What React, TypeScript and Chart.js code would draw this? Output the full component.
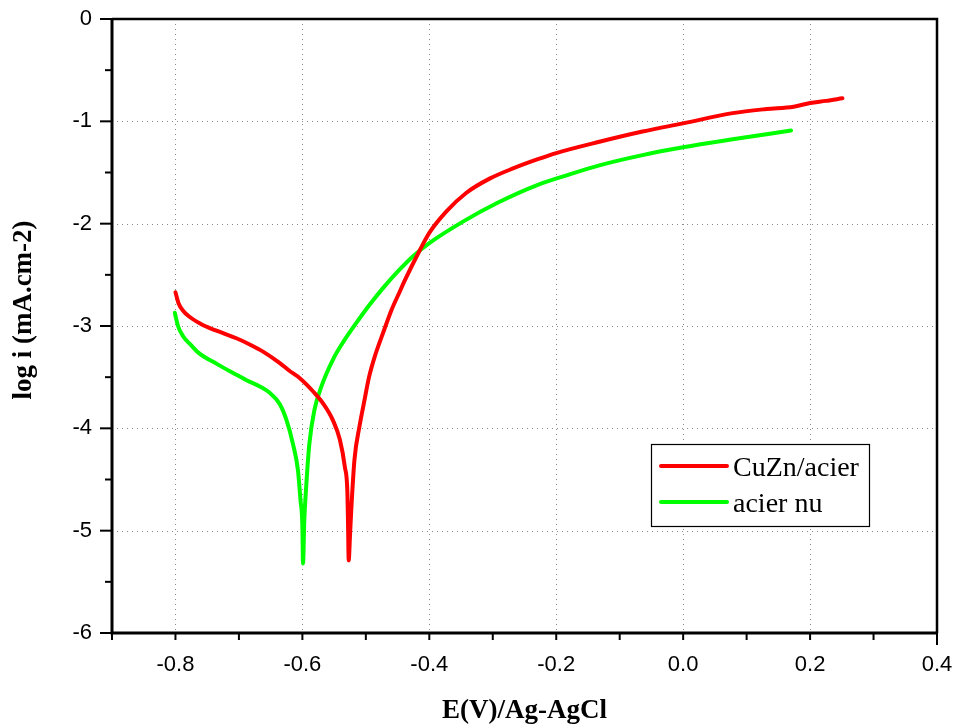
import React, { useEffect, useRef } from "react";
import { Chart, registerables } from "chart.js";

Chart.register(...registerables);

// ---- Data ----
const cuznE = [
  -0.8, -0.795, -0.788, -0.778, -0.76, -0.746, -0.725, -0.704, -0.683, -0.662,
  -0.636, -0.62, -0.604, -0.583, -0.567, -0.552, -0.541, -0.533, -0.529, -0.528,
  -0.527, -0.525, -0.523, -0.518, -0.51, -0.502, -0.495, -0.486, -0.473, -0.46,
  -0.447, -0.439, -0.415, -0.4, -0.373, -0.342, -0.305, -0.268,
  -0.229, -0.2, -0.132, -0.064, 0.0, 0.078, 0.131, 0.174, 0.2, 0.225, 0.251,
];
const cuznLogI = [
  -2.67, -2.78, -2.85, -2.91, -2.98, -3.02, -3.07, -3.12, -3.18, -3.25,
  -3.36, -3.44, -3.51, -3.64, -3.76, -3.92, -4.11, -4.38, -4.64, -4.96,
  -5.29, -5.05, -4.8, -4.31, -3.98, -3.72, -3.5, -3.3, -3.07, -2.85,
  -2.67, -2.56, -2.26, -2.09, -1.88, -1.7, -1.56, -1.46,
  -1.37, -1.31, -1.2, -1.1, -1.02, -0.92, -0.88, -0.857, -0.82, -0.8, -0.775,
];

const acierE = [
  -0.801, -0.796, -0.788, -0.775, -0.762, -0.735, -0.709, -0.688, -0.667, -0.652,
  -0.636, -0.625, -0.615, -0.607, -0.603, -0.6, -0.599, -0.597, -0.594, -0.589,
  -0.581, -0.57, -0.552, -0.535, -0.515, -0.495, -0.473, -0.447, -0.426, -0.4,
  -0.347, -0.294, -0.229, -0.18, -0.132, -0.064, 0.0, 0.078, 0.17,
];
const acierLogI = [
  -2.87, -3.0, -3.1, -3.19, -3.27, -3.37, -3.46, -3.53, -3.59, -3.65,
  -3.76, -3.92, -4.15, -4.41, -4.7, -4.96, -5.32, -4.9, -4.57, -4.15,
  -3.82, -3.59, -3.33, -3.15, -2.97, -2.8, -2.63, -2.45, -2.32, -2.19,
  -1.98, -1.8, -1.62, -1.52, -1.43, -1.33, -1.254, -1.176, -1.09,
];

const seriesLabels = ["CuZn/acier", "acier nu"];
const seriesColors = ["#ff0000", "#00ff00"];

const xTickValues = [-0.8, -0.6, -0.4, -0.2, 0.0, 0.2, 0.4];
const xMinorValues = [-0.9, -0.7, -0.5, -0.3, -0.1, 0.1, 0.3];
const yTickValues = [-6, -5, -4, -3, -2, -1, 0];
const yMinorValues = [-5.5, -4.5, -3.5, -2.5, -1.5, -0.5];
const xGridValues = [-0.8, -0.6, -0.4, -0.2, 0.0, 0.2];
const yGridValues = [-5, -4, -3, -2, -1];

const xTitle = "E(V)/Ag-AgCl";
const yTitle = "log i (mA.cm-2)";

const SANS = "'Liberation Sans', Arial, sans-serif";
const SERIF = "'Liberation Serif', 'Times New Roman', serif";

const decorPlugin = {
  id: "decor",
  beforeDatasetsDraw(chart: any) {
    const { ctx, chartArea, scales } = chart;
    const { left, right, top, bottom } = chartArea;
    const xs = scales.x;
    const ys = scales.y;
    ctx.save();
    ctx.strokeStyle = "#8a8a8a";
    ctx.lineWidth = 1;
    ctx.setLineDash([1, 4]);
    for (const v of xGridValues) {
      const px = Math.round(xs.getPixelForValue(v)) + 0.5;
      ctx.beginPath();
      ctx.moveTo(px, top);
      ctx.lineTo(px, bottom);
      ctx.stroke();
    }
    for (const v of yGridValues) {
      const py = Math.round(ys.getPixelForValue(v)) + 0.5;
      ctx.beginPath();
      ctx.moveTo(left, py);
      ctx.lineTo(right, py);
      ctx.stroke();
    }
    ctx.restore();
  },
  afterDatasetsDraw(chart: any) {
    const { ctx, chartArea, scales } = chart;
    const { left, right, top, bottom } = chartArea;
    const xs = scales.x;
    const ys = scales.y;
    ctx.save();
    ctx.setLineDash([]);
    ctx.strokeStyle = "#000";
    // frame
    ctx.lineWidth = 2.5;
    ctx.beginPath();
    ctx.moveTo(left, top);
    ctx.lineTo(right, top);
    ctx.lineTo(right, bottom);
    ctx.stroke();
    ctx.lineWidth = 3;
    ctx.beginPath();
    ctx.moveTo(left, top);
    ctx.lineTo(left, bottom);
    ctx.lineTo(right, bottom);
    ctx.stroke();
    // ticks
    ctx.lineWidth = 2;
    const allX = [...xTickValues, ...xMinorValues];
    for (const v of allX) {
      const px = xs.getPixelForValue(v);
      const len = v === 0.4 ? 12 : 7;
      ctx.beginPath();
      ctx.moveTo(px, bottom);
      ctx.lineTo(px, bottom + len);
      ctx.stroke();
    }
    for (const v of yTickValues) {
      const py = ys.getPixelForValue(v);
      ctx.beginPath();
      ctx.moveTo(left, py);
      ctx.lineTo(left - 12, py);
      ctx.stroke();
    }
    for (const v of yMinorValues) {
      const py = ys.getPixelForValue(v);
      ctx.beginPath();
      ctx.moveTo(left, py);
      ctx.lineTo(left - 7, py);
      ctx.stroke();
    }
    // legend
    const bx = right - 286;
    const by = top + 425;
    const bw = 218;
    const bh = 82;
    ctx.fillStyle = "#fff";
    ctx.fillRect(bx, by, bw, bh);
    ctx.lineWidth = 1.2;
    ctx.strokeStyle = "#000";
    ctx.strokeRect(bx + 0.5, by + 0.5, bw, bh);
    ctx.font = `28px ${SERIF}`;
    ctx.textAlign = "left";
    ctx.textBaseline = "alphabetic";
    seriesLabels.forEach((lab, i) => {
      const ly = by + 22 + i * 36;
      ctx.strokeStyle = seriesColors[i];
      ctx.lineWidth = 4;
      ctx.lineCap = "round";
      ctx.beginPath();
      ctx.moveTo(bx + 10, ly);
      ctx.lineTo(bx + 76, ly);
      ctx.stroke();
      ctx.fillStyle = "#000";
      ctx.fillText(lab, bx + 82, ly + 10);
    });
    // axis titles
    ctx.font = `bold 27px ${SERIF}`;
    ctx.fillStyle = "#000";
    ctx.textAlign = "center";
    ctx.textBaseline = "alphabetic";
    ctx.fillText(xTitle, (left + right) / 2, bottom + 85);
    ctx.translate(24, (top + bottom) / 2 - 16);
    ctx.rotate(-Math.PI / 2);
    ctx.textBaseline = "middle";
    ctx.fillText(yTitle, 0, 0);
    ctx.restore();
  },
};

export default function App() {
  const canvasRef = useRef<HTMLCanvasElement | null>(null);

  useEffect(() => {
    const canvas = canvasRef.current;
    if (!canvas) return;
    const lineDs = (i: number, xs: number[], ys: number[]) => ({
      label: seriesLabels[i],
      data: xs.map((x, k) => ({ x, y: ys[k] })),
      borderColor: seriesColors[i],
      backgroundColor: seriesColors[i],
      showLine: true,
      pointRadius: 0,
      borderWidth: 4,
      cubicInterpolationMode: "monotone",
      borderCapStyle: "round",
      borderJoinStyle: "round",
    });
    const chart = new Chart(canvas, {
      type: "scatter",
      data: {
        datasets: [lineDs(0, cuznE, cuznLogI), lineDs(1, acierE, acierLogI)],
      },
      options: {
        responsive: false,
        animation: false,
        layout: { padding: { top: 19, right: 18, left: 0, bottom: 0 } },
        plugins: {
          legend: { display: false },
          tooltip: { enabled: false },
        },
        scales: {
          x: {
            type: "linear",
            min: -0.9,
            max: 0.4,
            grid: { display: false, drawTicks: false },
            border: { display: false },
            afterBuildTicks: (s: any) => {
              s.ticks = xTickValues.map((v) => ({ value: v }));
            },
            afterFit: (s: any) => {
              s.height = 93;
              s.paddingLeft = 0;
              s.paddingRight = 0;
            },
            ticks: {
              padding: 19,
              color: "#000",
              font: { family: SANS, size: 22 },
              maxRotation: 0,
              autoSkip: false,
              callback: (v: any) => Number(v).toFixed(1),
            },
          },
          y: {
            type: "linear",
            min: -6,
            max: 0,
            grid: { display: false, drawTicks: false },
            border: { display: false },
            afterBuildTicks: (s: any) => {
              s.ticks = yTickValues.map((v) => ({ value: v }));
            },
            afterFit: (s: any) => {
              s.width = 112;
              s.paddingTop = 0;
              s.paddingBottom = 0;
            },
            ticks: {
              padding: 20,
              color: "#000",
              font: { family: SANS, size: 22 },
              autoSkip: false,
              callback: (v: any) => String(v),
            },
          },
        },
      },
      plugins: [decorPlugin],
    } as any);
    return () => chart.destroy();
  }, []);

  return (
    <div style={{ position: "fixed", left: 0, top: 0, width: 955, height: 726, background: "#fff" }}>
      <canvas ref={canvasRef} width={955} height={726} />
    </div>
  );
}
